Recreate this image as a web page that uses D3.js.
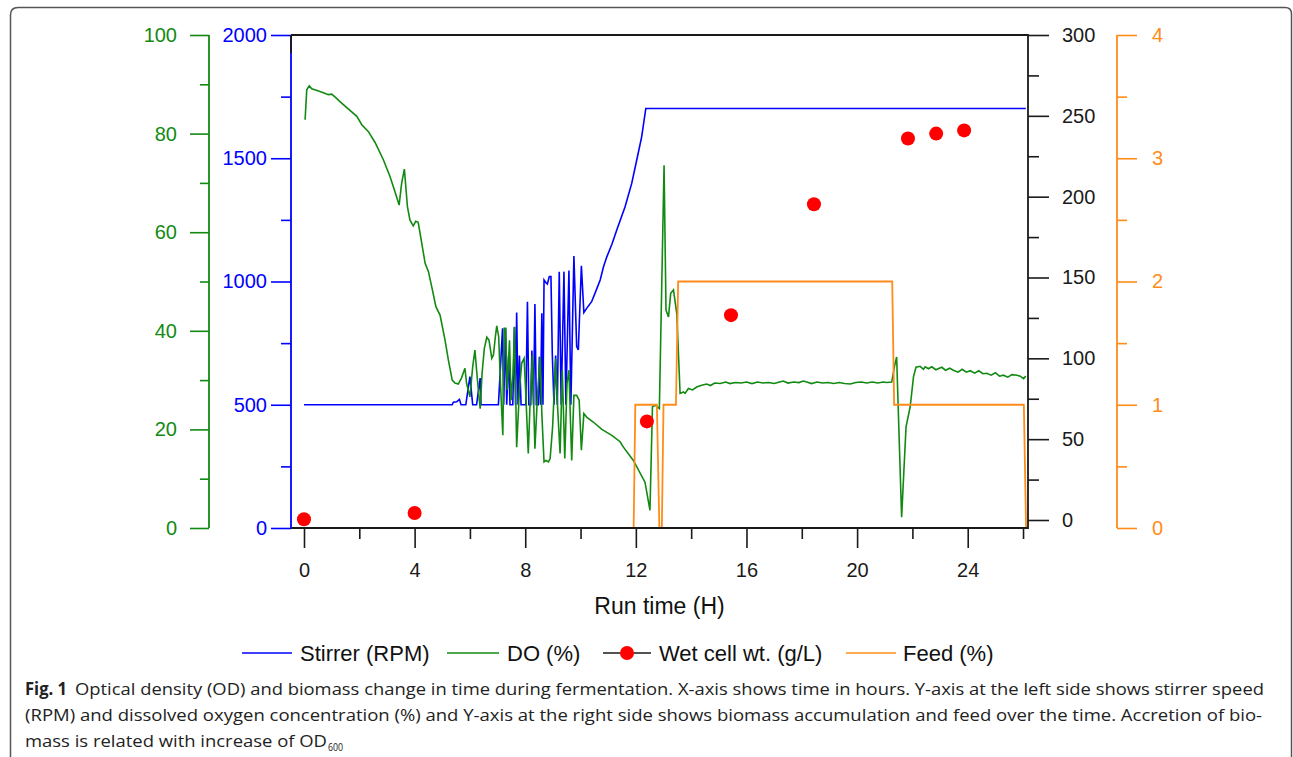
<!DOCTYPE html>
<html>
<head>
<meta charset="utf-8">
<script src="https://cdn.jsdelivr.net/npm/d3@7"></script>
<style>
    html, body { margin: 0; padding: 0; background: #fff; }
    svg { display: block; }
</style>
</head>
<body>
<svg id="chart"></svg>
<script>
"use strict";

// Stirrer speed (hours, RPM)
const stirrerData = [
    [0, 500], [5.36, 500], [5.40, 510], [5.52, 512], [5.62, 522], [5.68, 500], [5.85, 500],
    [6.00, 614], [6.10, 500], [6.24, 500], [6.37, 608], [6.40, 500], [7.03, 500],
    [7.18, 810], [7.22, 500], [7.29, 810], [7.33, 500], [7.40, 700], [7.45, 500], [7.55, 500],
    [7.61, 815], [7.65, 500], [7.69, 874], [7.74, 500], [7.79, 700], [7.85, 500], [8.02, 500],
    [8.08, 918], [8.13, 500], [8.20, 500], [8.24, 720], [8.30, 500], [8.35, 909], [8.40, 500],
    [8.47, 500], [8.51, 695], [8.55, 500], [8.60, 871], [8.64, 500], [8.68, 1006], [8.75, 995],
    [8.80, 990], [8.87, 1020], [8.93, 1020], [8.98, 700], [9.04, 500], [9.10, 700], [9.16, 500],
    [9.23, 1040], [9.30, 500], [9.40, 1040], [9.47, 500], [9.58, 1045], [9.65, 500],
    [9.76, 1103], [9.86, 736], [9.92, 722], [10.03, 1064], [10.12, 874], [10.22, 891],
    [10.40, 918], [10.55, 960], [10.71, 1006], [10.83, 1060], [10.95, 1100], [11.13, 1150],
    [11.31, 1209], [11.61, 1303], [11.85, 1398], [12.03, 1492], [12.21, 1587], [12.36, 1702],
    [26.10, 1702]
];

// Dissolved oxygen (hours, %)
const doData = [
    [0.04, 82.8], [0.10, 88.9], [0.19, 89.7], [0.28, 89.1], [0.50, 88.7], [0.70, 88.3],
    [0.88, 87.9], [1.00, 88.0], [1.15, 87.3], [1.30, 86.5], [1.60, 85.0], [1.91, 83.5],
    [2.09, 81.8], [2.33, 80.4], [2.57, 78.2], [2.87, 74.7], [3.11, 71.3], [3.29, 68.2],
    [3.44, 65.5], [3.53, 69.9], [3.63, 72.8], [3.74, 65.2], [3.83, 62.5], [3.95, 61.3],
    [4.04, 62.2], [4.13, 62.0], [4.26, 57.7], [4.38, 53.7], [4.50, 52.0], [4.62, 48.9],
    [4.77, 44.9], [4.92, 43.2], [5.10, 38.1], [5.22, 34.1], [5.36, 30.0], [5.46, 29.4],
    [5.58, 29.2], [5.70, 30.5], [5.82, 32.4], [5.88, 29.3], [6.00, 26.6], [6.10, 32.7],
    [6.18, 36.1], [6.27, 30.1], [6.37, 24.2], [6.44, 31.4], [6.52, 36.4], [6.61, 38.7],
    [6.69, 38.1], [6.79, 34.4], [6.85, 35.1], [6.92, 38.8], [6.97, 41.0], [7.04, 38.8],
    [7.11, 28.6], [7.19, 18.8], [7.24, 40.5], [7.29, 40.5], [7.35, 28.0], [7.43, 38.1],
    [7.49, 25.9], [7.56, 31.3], [7.61, 40.8], [7.69, 16.4], [7.79, 28.0], [7.87, 33.4],
    [7.96, 34.4], [8.03, 25.9], [8.11, 15.1], [8.17, 24.6], [8.26, 35.1], [8.35, 16.1],
    [8.44, 26.6], [8.54, 34.7], [8.60, 23.2], [8.68, 13.4], [8.75, 13.7], [8.84, 13.4],
    [8.90, 14.1], [8.99, 20.5], [9.10, 34.4], [9.17, 24.6], [9.26, 15.1], [9.34, 32.0],
    [9.43, 14.1], [9.51, 29.3], [9.58, 32.0], [9.68, 13.7], [9.76, 26.9], [9.86, 26.9],
    [9.95, 25.9], [10.03, 15.8], [10.12, 23.2], [10.22, 22.5], [10.46, 21.5], [10.77, 20.0],
    [11.13, 18.8], [11.43, 17.5], [11.55, 16.4], [11.91, 13.7], [12.33, 9.3], [12.51, 3.6],
    [12.60, 24.6], [12.70, 24.9], [12.85, 24.2], [13.02, 73.6], [13.09, 44.2], [13.18, 42.8],
    [13.26, 47.6], [13.36, 48.3], [13.48, 43.5], [13.60, 27.3], [13.72, 27.6], [13.78, 27.3],
    [13.90, 28.3], [14.05, 28.0], [14.20, 28.6], [14.35, 28.9], [14.56, 29.2], [14.70, 28.9],
    [14.85, 29.4], [15.05, 29.3], [15.25, 29.6], [15.40, 29.3], [15.60, 29.5], [15.80, 29.4],
    [16.00, 29.6], [16.20, 29.3], [16.40, 29.6], [16.60, 29.4], [16.80, 29.5], [17.00, 29.3],
    [17.20, 29.6], [17.33, 29.8], [17.50, 29.4], [17.70, 29.6], [17.90, 29.5], [18.05, 29.8],
    [18.18, 29.6], [18.35, 29.3], [18.55, 29.6], [18.75, 29.4], [18.95, 29.5], [19.15, 29.3],
    [19.35, 29.5], [19.55, 29.3], [19.75, 29.2], [19.95, 29.5], [20.15, 29.6], [20.35, 29.4],
    [20.55, 29.6], [20.75, 29.4], [20.95, 29.6], [21.07, 29.5], [21.25, 29.6], [21.36, 33.0],
    [21.43, 34.7], [21.61, 2.2], [21.77, 20.5], [21.92, 24.6], [22.04, 30.7], [22.13, 32.6],
    [22.28, 32.8], [22.40, 32.2], [22.46, 32.7], [22.58, 32.3], [22.70, 32.7], [22.85, 32.1],
    [23.06, 32.6], [23.20, 32.0], [23.35, 32.4], [23.48, 32.0], [23.65, 31.6], [23.80, 32.2],
    [23.95, 31.6], [24.09, 31.9], [24.25, 31.4], [24.40, 31.9], [24.55, 31.3], [24.69, 31.4],
    [24.85, 31.0], [25.00, 31.5], [25.15, 30.8], [25.29, 31.0], [25.45, 30.6], [25.60, 31.1],
    [25.78, 31.0], [25.90, 30.8], [26.02, 30.3], [26.10, 30.8]
];

// Wet cell weight (hours, g/L)
const wcwData = [
    [0, 0.5], [4, 4.3], [12.4, 61], [15.44, 126.7], [18.44, 195.3],
    [21.84, 236], [22.86, 239], [23.87, 241]
];

// Feed (hours, %)
const feedData = [
    [0, 0], [11.92, 0], [11.98, 1], [12.76, 1], [12.85, 0], [12.94, 0], [13.0, 1],
    [13.45, 1], [13.53, 2], [21.27, 2], [21.34, 1], [26.03, 1], [26.11, 0]
];

// Tick values
const xMajorTicks = [0, 4, 8, 12, 16, 20, 24],
    xMinorTicks = [2, 6, 10, 14, 18, 22, 26],
    doMajorTicks = [0, 20, 40, 60, 80, 100],
    doMinorTicks = [10, 30, 50, 70, 90],
    rpmMajorTicks = [0, 500, 1000, 1500, 2000],
    rpmMinorTicks = [250, 750, 1250, 1750],
    wcwMajorTicks = [0, 50, 100, 150, 200, 250, 300],
    wcwMinorTicks = [25, 75, 125, 175, 225, 275],
    feedMajorTicks = [0, 1, 2, 3, 4],
    feedMinorTicks = [0.5, 1.5, 2.5, 3.5];

const legendItems = ["Stirrer (RPM)", "DO (%)", "Wet cell wt. (g/L)", "Feed (%)"];

const FONT = "'Liberation Sans', Arial, sans-serif",
    CAPTION_FONT = "'Open Sans', 'Noto Sans', sans-serif";

const BLUE = "#0000ff",
    GREEN = "#128a12",
    ORANGE = "#ff8c1a",
    RED = "#ff0000",
    BLACK = "#1a1a1a";

const width = 1293, height = 757;
const plot = {left: 291, right: 1028, top: 35, bottom: 528};

const svg = d3.select("#chart")
    .attr("width", width)
    .attr("height", height)
    .style("background", "#fff");

// Figure border (open at the bottom)
svg.append("path")
    .attr("d", `M10.5,${height} V15 Q10.5,7.5 18,7.5 H1285 Q1291.5,7.5 1291.5,14 V${height}`)
    .attr("fill", "none")
    .attr("stroke", "#555")
    .attr("stroke-width", 1.5);

const x = d3.scaleLinear().domain([-0.47, 26.18]).range([plot.left, plot.right]),
    yRpm = d3.scaleLinear().domain([0, 2000]).range([plot.bottom, plot.top]),
    yDo = d3.scaleLinear().domain([0, 100]).range([plot.bottom, plot.top]),
    yWcw = d3.scaleLinear().domain([0, 300]).range([520, plot.top]),
    yFeed = d3.scaleLinear().domain([0, 4]).range([plot.bottom, plot.top]);

const plainNumber = (d) => `${d}`;

/**
 * Draws an axis and colours its ticks and labels
 */
function styleAxis(g, axis, color) {
    g.call(axis);
    g.select(".domain").remove();
    g.selectAll(".tick line").attr("stroke", color).attr("stroke-width", 1.6);
    g.selectAll(".tick text")
        .attr("fill", color)
        .style("font-family", FONT)
        .style("font-size", "20px");
    return g;
}

function axisLine(xPos, y0, y1, color) {
    svg.append("line")
        .attr("x1", xPos).attr("x2", xPos)
        .attr("y1", y0).attr("y2", y1)
        .attr("stroke", color)
        .attr("stroke-width", 1.8);
}

// Green DO axis
const doAxisX = 209;
styleAxis(svg.append("g").attr("transform", `translate(${doAxisX},0)`),
    d3.axisLeft(yDo).tickValues(doMinorTicks).tickSize(9).tickFormat(""), GREEN);
styleAxis(svg.append("g").attr("transform", `translate(${doAxisX},0)`),
    d3.axisLeft(yDo).tickValues(doMajorTicks).tickSize(19).tickPadding(13).tickFormat(plainNumber), GREEN);
axisLine(doAxisX, plot.top, plot.bottom, GREEN);

// Blue stirrer axis
styleAxis(svg.append("g").attr("transform", `translate(${plot.left},0)`),
    d3.axisLeft(yRpm).tickValues(rpmMinorTicks).tickSize(10).tickFormat(""), BLUE);
styleAxis(svg.append("g").attr("transform", `translate(${plot.left},0)`),
    d3.axisLeft(yRpm).tickValues(rpmMajorTicks).tickSize(20).tickPadding(4).tickFormat(plainNumber), BLUE);

// Black wet cell weight axis
styleAxis(svg.append("g").attr("transform", `translate(${plot.right},0)`),
    d3.axisRight(yWcw).tickValues(wcwMinorTicks).tickSize(11).tickFormat(""), BLACK);
styleAxis(svg.append("g").attr("transform", `translate(${plot.right},0)`),
    d3.axisRight(yWcw).tickValues(wcwMajorTicks).tickSize(21).tickPadding(13).tickFormat(plainNumber), BLACK);

// Orange feed axis
const feedAxisX = 1117;
styleAxis(svg.append("g").attr("transform", `translate(${feedAxisX},0)`),
    d3.axisRight(yFeed).tickValues(feedMinorTicks).tickSize(10).tickFormat(""), ORANGE);
styleAxis(svg.append("g").attr("transform", `translate(${feedAxisX},0)`),
    d3.axisRight(yFeed).tickValues(feedMajorTicks).tickSize(20).tickPadding(15).tickFormat(plainNumber), ORANGE);
axisLine(feedAxisX, plot.top, plot.bottom, ORANGE);

// Time axis
styleAxis(svg.append("g").attr("transform", `translate(0,${plot.bottom})`),
    d3.axisBottom(x).tickValues(xMinorTicks).tickSize(11).tickFormat(""), BLACK);
styleAxis(svg.append("g").attr("transform", `translate(0,${plot.bottom})`),
    d3.axisBottom(x).tickValues(xMajorTicks).tickSize(20).tickPadding(15).tickFormat(plainNumber), BLACK);

svg.append("text")
    .attr("x", (plot.left + plot.right) / 2)
    .attr("y", 614)
    .attr("text-anchor", "middle")
    .style("font-family", FONT)
    .style("font-size", "23px")
    .attr("fill", "#111")
    .text("Run time (H)");

// Series
const lineOf = (yScale) => d3.line().x((d) => x(d[0])).y((d) => yScale(d[1]));

svg.append("path")
    .datum(stirrerData)
    .attr("d", lineOf(yRpm))
    .attr("fill", "none")
    .attr("stroke", BLUE)
    .attr("stroke-width", 1.6);

svg.append("path")
    .datum(doData)
    .attr("d", lineOf(yDo))
    .attr("fill", "none")
    .attr("stroke", GREEN)
    .attr("stroke-width", 1.6);

svg.append("path")
    .datum(feedData)
    .attr("d", lineOf(yFeed))
    .attr("fill", "none")
    .attr("stroke", ORANGE)
    .attr("stroke-width", 1.8);

// Plot frame, drawn over the series
svg.append("path")
    .attr("d", `M${plot.left},${plot.bottom} H${plot.right} V${plot.top} H${plot.left}`)
    .attr("fill", "none")
    .attr("stroke", BLACK)
    .attr("stroke-width", 1.8);
axisLine(plot.left, plot.top, plot.bottom, BLUE);
axisLine(plot.left, plot.top, 53, BLACK);

svg.append("g")
    .selectAll("circle")
    .data(wcwData)
    .enter()
    .append("circle")
    .attr("cx", (d) => x(d[0]))
    .attr("cy", (d) => yWcw(d[1]))
    .attr("r", 7)
    .attr("fill", RED);

// Legend
const legendY = 653;
const legendLayout = [
    {x1: 242, x2: 292, tx: 300, color: BLUE},
    {x1: 447, x2: 499, tx: 507, color: GREEN},
    {x1: 603, x2: 651, tx: 659, color: BLACK, dot: true},
    {x1: 846, x2: 896, tx: 903, color: ORANGE}
];
const legend = svg.append("g");
legendItems.forEach((label, i) => {
    const item = legendLayout[i];
    legend.append("line")
        .attr("x1", item.x1).attr("x2", item.x2)
        .attr("y1", legendY).attr("y2", legendY)
        .attr("stroke", item.color)
        .attr("stroke-width", 1.6);
    if (item.dot) {
        legend.append("circle")
            .attr("cx", (item.x1 + item.x2) / 2)
            .attr("cy", legendY)
            .attr("r", 7)
            .attr("fill", RED);
    }
    legend.append("text")
        .attr("x", item.tx)
        .attr("y", legendY)
        .attr("dy", "0.36em")
        .style("font-family", FONT)
        .style("font-size", "22px")
        .attr("fill", "#111")
        .text(label);
});

// Caption
const caption = svg.append("g")
    .style("font-family", CAPTION_FONT)
    .style("font-size", "17px")
    .attr("fill", "#222");

caption.append("text")
    .attr("x", 25).attr("y", 695)
    .attr("textLength", 42).attr("lengthAdjust", "spacingAndGlyphs")
    .style("font-weight", "bold")
    .text("Fig. 1");
caption.append("text")
    .attr("x", 75).attr("y", 695)
    .attr("textLength", 1189).attr("lengthAdjust", "spacingAndGlyphs")
    .text("Optical density (OD) and biomass change in time during fermentation. X-axis shows time in hours. Y-axis at the left side shows stirrer speed");
caption.append("text")
    .attr("x", 25).attr("y", 721)
    .attr("textLength", 1237).attr("lengthAdjust", "spacingAndGlyphs")
    .text("(RPM) and dissolved oxygen concentration (%) and Y-axis at the right side shows biomass accumulation and feed over the time. Accretion of bio-");
caption.append("text")
    .attr("x", 25).attr("y", 747)
    .attr("textLength", 302).attr("lengthAdjust", "spacingAndGlyphs")
    .text("mass is related with increase of OD");
caption.append("text")
    .attr("x", 328).attr("y", 751)
    .attr("textLength", 15).attr("lengthAdjust", "spacingAndGlyphs")
    .style("font-size", "11px")
    .text("600");
</script>
</body>
</html>
